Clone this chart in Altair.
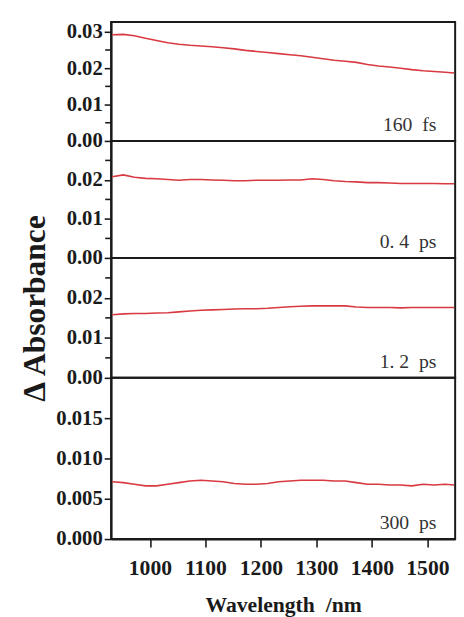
import altair as alt
import pandas as pd

# ---------------- data ----------------
wavelength = [932, 952, 972, 992, 1012, 1032, 1052, 1072, 1092, 1112, 1132, 1152,
              1172, 1192, 1212, 1232, 1252, 1272, 1292, 1312, 1332, 1352, 1372,
              1392, 1412, 1432, 1452, 1472, 1492, 1512, 1532, 1548]

abs_160fs = [0.0292, 0.0293, 0.0289, 0.0282, 0.0276, 0.0270, 0.0266, 0.0263, 0.0261,
             0.0259, 0.0256, 0.0253, 0.0249, 0.0246, 0.0243, 0.0240, 0.0237, 0.0234,
             0.0230, 0.0226, 0.0222, 0.0219, 0.0216, 0.0210, 0.0206, 0.0203, 0.0200,
             0.0196, 0.0193, 0.0191, 0.0189, 0.0187]

abs_04ps = [0.0208, 0.0213, 0.0207, 0.0204, 0.0203, 0.0201, 0.0199, 0.0201, 0.0201,
            0.0200, 0.0199, 0.0198, 0.0198, 0.0199, 0.0199, 0.0199, 0.0200, 0.0200,
            0.0203, 0.0201, 0.0198, 0.0196, 0.0195, 0.0193, 0.0193, 0.0192, 0.0191,
            0.0191, 0.0191, 0.0191, 0.0190, 0.0190]

abs_12ps = [0.0158, 0.0160, 0.0161, 0.0161, 0.0162, 0.0163, 0.0165, 0.0167, 0.0169,
            0.0170, 0.0171, 0.0172, 0.0173, 0.0173, 0.0174, 0.0176, 0.0178, 0.0179,
            0.0180, 0.0180, 0.0180, 0.0180, 0.0177, 0.0176, 0.0176, 0.0176, 0.0175,
            0.0176, 0.0176, 0.0176, 0.0176, 0.0176]

abs_300ps = [0.0071, 0.0070, 0.0068, 0.0066, 0.0066, 0.0068, 0.0070, 0.0072, 0.0073,
             0.0072, 0.0071, 0.0069, 0.0068, 0.0068, 0.0069, 0.0071, 0.0072, 0.0073,
             0.0073, 0.0073, 0.0072, 0.0072, 0.0070, 0.0068, 0.0068, 0.0067, 0.0067,
             0.0066, 0.0068, 0.0067, 0.0068, 0.0067]

series = [abs_160fs, abs_04ps, abs_12ps, abs_300ps]
panel_labels = ["160\u00a0\u00a0fs", "0.\u00a04\u00a0\u00a0ps", "1.\u00a02\u00a0\u00a0ps", "300\u00a0\u00a0ps"]
y_max = [0.0327, 0.030, 0.030, 0.020]
y_major = [[0.0, 0.01, 0.02, 0.03], [0.0, 0.01, 0.02], [0.0, 0.01, 0.02],
           [0.0, 0.005, 0.010, 0.015]]
y_format = [".2f", ".2f", ".2f", ".3f"]
y_minor = [[0.005, 0.015, 0.025], [0.005, 0.015, 0.025], [0.005, 0.015, 0.025], []]
x_ticks = [1000, 1100, 1200, 1300, 1400, 1500]
x_domain = [930, 1550]

# ---------------- style ----------------
W = 350
HEIGHTS = [121, 119, 122, 164]
RED = "#d93a42"
INK = "#1a1a1a"
SERIF = "Liberation Serif"


def panel(i):
    df = pd.DataFrame({"wl": wavelength, "a": series[i]})
    xscale = alt.Scale(domain=x_domain, nice=False, zero=False)
    yscale = alt.Scale(domain=[0, y_max[i]], nice=False, zero=True)
    last = i == 3
    if last:
        xaxis = alt.Axis(values=x_ticks, format="d", title="Wavelength\u00a0\u00a0/nm",
                         labelFontSize=22, labelPadding=11, tickSize=8,
                         titleFontSize=22, titlePadding=17)
    else:
        xaxis = None
    yargs = dict(values=y_major[i], format=y_format[i], labelFontSize=21,
                 tickSize=7, labelPadding=2)
    if i == 2:
        yaxis = alt.Axis(title="\u0394 Absorbance", titleFontSize=32, titleAngle=270,
                         titleX=-78, titleY=51, titleAlign="center",
                         titleBaseline="middle", **yargs)
    else:
        yaxis = alt.Axis(title=None, **yargs)

    line = alt.Chart(df).mark_line(color=RED, strokeWidth=1.6).encode(
        x=alt.X("wl:Q", scale=xscale, axis=xaxis),
        y=alt.Y("a:Q", scale=yscale, axis=yaxis),
    )
    lab = alt.Chart(pd.DataFrame({"t": [panel_labels[i]]})).mark_text(
        align="right", baseline="alphabetic", font=SERIF, fontSize=20, color="#333"
    ).encode(
        x=alt.value(W - 19),
        y=alt.value(HEIGHTS[i] - 10),
        text="t:N",
    )
    layers = [line, lab]
    if y_minor[i]:
        # minor ticks: same field name and identical axis so the axes merge cleanly
        mt = alt.Chart(pd.DataFrame({"a": y_minor[i]})).mark_rule(
            color=INK, strokeWidth=1.6
        ).encode(
            y=alt.Y("a:Q", scale=yscale, axis=yaxis),
            x=alt.value(-6),
            x2=alt.value(0),
        )
        layers.append(mt)
    return alt.layer(*layers).properties(width=W, height=HEIGHTS[i])


chart = alt.vconcat(*[panel(i) for i in range(4)], spacing=0, bounds="flush").properties(
    padding={"left": 18, "top": 14, "right": 5, "bottom": 0},
    background="white",
).configure_view(
    stroke=INK, strokeWidth=2
).configure_axis(
    grid=False,
    domainColor=INK, domainWidth=2,
    tickColor=INK, tickWidth=1.6,
    labelFont=SERIF, labelFontWeight="bold", labelColor=INK,
    titleFont=SERIF, titleFontWeight="bold", titleColor=INK,
)

chart.save("out.html", embed_options={"renderer": "svg", "actions": False})
